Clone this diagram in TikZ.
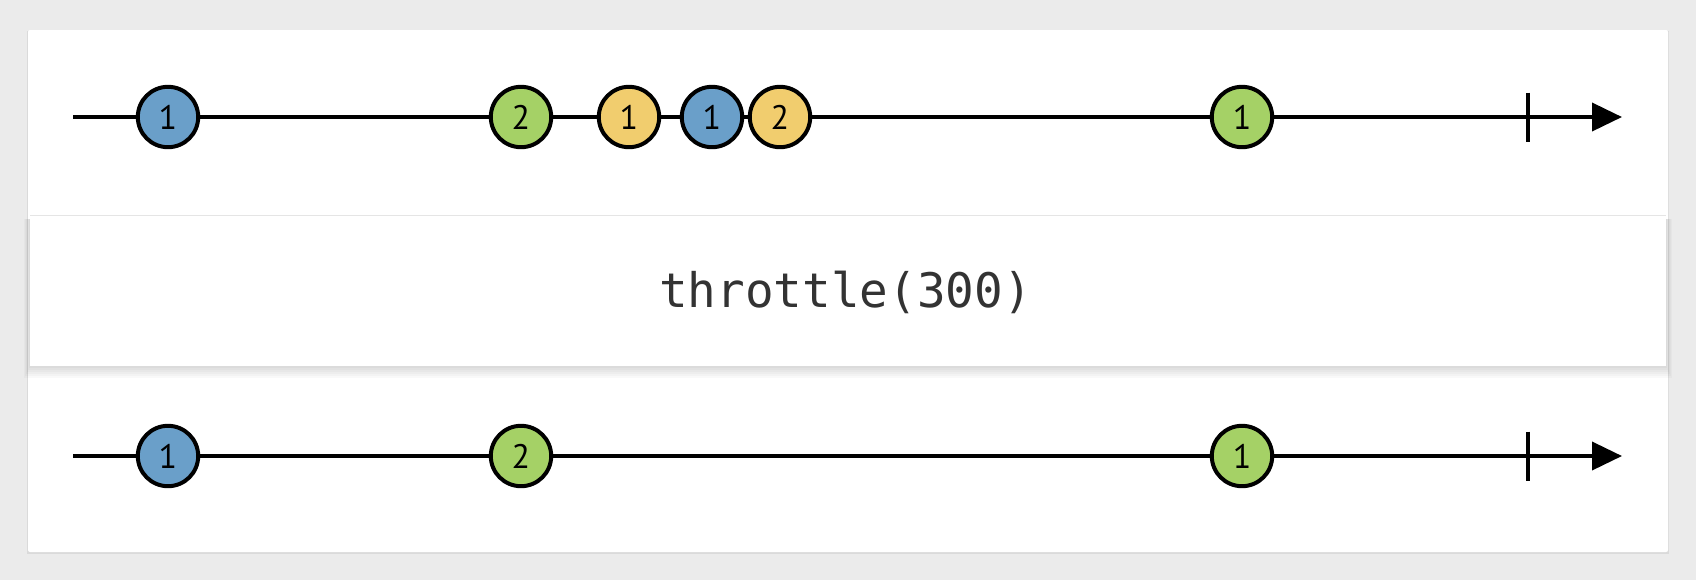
\documentclass[tikz,border=0pt]{standalone}
\usepackage{fontspec}
\setsansfont{PT Sans}
\setmonofont{DejaVu Sans Mono}
\usetikzlibrary{arrows.meta}
\definecolor{bggray}{HTML}{EBEBEB}
\definecolor{mblue}{HTML}{6A9FC9}
\definecolor{mgreen}{HTML}{A5D166}
\definecolor{myellow}{HTML}{F1CD6E}
\definecolor{optext}{HTML}{333333}
\tikzset{
  marble/.style={draw, circle, line width=2pt, inner sep=0pt, minimum size=30.2pt,
    font=\sffamily\fontsize{17}{20}\selectfont},
  timeline/.style={line width=1.9pt, -{Triangle[length=15pt,width=14pt]}},
}
\begin{document}
\begin{tikzpicture}[x=0.5pt,y=-0.5pt]
\newcommand\marblerow[3]{
\coordinate (#1 start) at (73,#2);
\coordinate (#1 end) at (1622,#2);
\coordinate (#1 tick) at (1528,#2);
\draw[timeline] (#1 start) -- (#1 end);
\draw[line width=1.9pt] ([yshift=12.25pt]#1 tick) -- ([yshift=-12.25pt]#1 tick);
\foreach \x/\c/\l [count=\i] in {#3}
  \node[marble, fill=\c] (#1\i) at (\x,#2) {\l};
}
% page and panel
\fill[bggray] (0,0) rectangle (1696,580);
\fill[black, opacity=0.07] (27,31) rectangle (1669,554);
\fill[white, rounded corners=1pt] (28,30) rectangle (1668,552);
% operator box with its shadow
\foreach \s in {1,...,6}
  \fill[black, opacity=0.025] (30-\s,219) rectangle (1666+\s,366+2*\s);
\fill[white] (30,215) rectangle (1666,366);
\draw[black!10, line width=0.5pt] (30,215) -- (1666,215);
\node[anchor=base, text=optext, font=\ttfamily\fontsize{23.8}{28}\selectfont] (op) at (845.5,307) {throttle(300)};
% input and output
\marblerow{in}{117}{168/mblue/1, 521/mgreen/2, 629/myellow/1, 712/mblue/1, 780/myellow/2, 1242/mgreen/1}
\marblerow{out}{456}{168/mblue/1, 521/mgreen/2, 1242/mgreen/1}
\end{tikzpicture}
\end{document}
